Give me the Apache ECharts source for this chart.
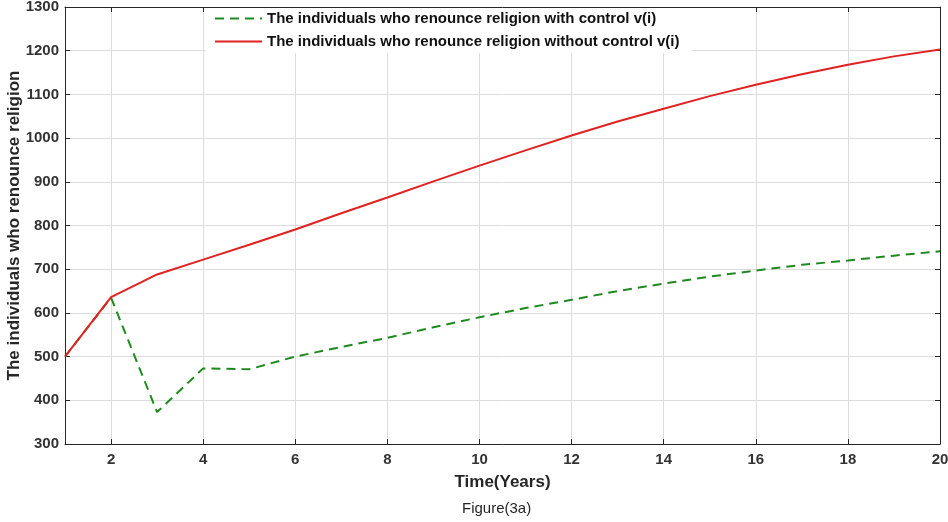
<!DOCTYPE html>
<html>
<head>
<meta charset="utf-8">
<script src="https://cdn.jsdelivr.net/npm/echarts@6/dist/echarts.min.js"></script>
<style>
  html, body { margin: 0; padding: 0; background: #fff; }
  #chart { width: 948px; height: 522px; }
</style>
</head>
<body>
<div id="chart"></div>
<script>
const years = [1, 2, 3, 4, 5, 6, 7, 8, 9, 10, 11, 12, 13, 14, 15, 16, 17, 18, 19, 20]
const withControl = [500, 635, 373, 473, 471, 500, 522, 543, 567, 590, 611, 630, 650, 667, 683, 697, 710, 720, 731, 741]
const withoutControl = [500, 636, 688, 722, 756, 791, 828, 864, 901, 937, 972, 1006, 1038, 1067, 1096, 1122, 1146, 1168, 1187, 1203]
const xTicks = [2, 4, 6, 8, 10, 12, 14, 16, 18, 20]

const FONT = "'Liberation Sans', Arial, sans-serif"
const AXIS_COLOR = '#262626'

const pairs = (vals) => years.map((y, i) => [y, vals[i]])

const chart = echarts.init(document.getElementById('chart'))

chart.setOption({
  animation: false,
  textStyle: { fontFamily: FONT },
  grid: { left: 65, right: 8, top: 7, bottom: 78, outerBoundsMode: 'none' },
  legend: {
    orient: 'vertical',
    left: 206,
    top: 8,
    padding: [3, 12, 4, 8],
    itemGap: 8,
    itemWidth: 47,
    itemHeight: 14,
    backgroundColor: '#fff',
    itemStyle: { opacity: 0 },
    textStyle: { fontFamily: FONT, fontWeight: 'bold', fontSize: 15, color: '#111' },
    data: [
      'The individuals who renounce religion with control v(i)',
      'The individuals who renounce religion without control v(i)'
    ]
  },
  xAxis: [{
    type: 'value',
    min: 1,
    max: 20,
    name: 'Time(Years)',
    nameLocation: 'middle',
    nameGap: 30,
    nameMoveOverlap: false,
    nameTextStyle: { fontFamily: FONT, fontWeight: 'bold', fontSize: 17, color: '#262626' },
    axisLine: { show: true, lineStyle: { color: AXIS_COLOR, width: 1 } },
    axisTick: { show: true, inside: true, length: 5, customValues: xTicks, lineStyle: { color: AXIS_COLOR } },
    axisLabel: { customValues: xTicks, margin: 8, fontFamily: FONT, fontWeight: 'bold', fontSize: 15, color: '#333' },
    splitLine: { show: true, lineStyle: { color: '#dcdcdc', width: 1 } }
  }, {
    type: 'value',
    position: 'top',
    min: 1,
    max: 20,
    axisLine: { show: true, onZero: false, lineStyle: { color: AXIS_COLOR, width: 1 } },
    axisTick: { show: true, inside: true, length: 5, customValues: xTicks, lineStyle: { color: AXIS_COLOR } },
    axisLabel: { show: false },
    splitLine: { show: false }
  }],
  yAxis: [{
    type: 'value',
    min: 300,
    max: 1300,
    interval: 100,
    name: 'The individuals who renounce religion',
    nameLocation: 'middle',
    nameGap: 42,
    nameMoveOverlap: false,
    nameTextStyle: { fontFamily: FONT, fontWeight: 'bold', fontSize: 17, color: '#262626' },
    axisLine: { show: true, lineStyle: { color: AXIS_COLOR, width: 1 } },
    axisTick: { show: true, inside: true, length: 5, lineStyle: { color: AXIS_COLOR } },
    axisLabel: { margin: 6, fontFamily: FONT, fontWeight: 'bold', fontSize: 15, color: '#333', formatter: (v) => String(v) },
    splitLine: { show: true, lineStyle: { color: '#dcdcdc', width: 1 } }
  }, {
    type: 'value',
    position: 'right',
    min: 300,
    max: 1300,
    interval: 100,
    axisLine: { show: true, onZero: false, lineStyle: { color: AXIS_COLOR, width: 1 } },
    axisTick: { show: true, inside: true, length: 5, lineStyle: { color: AXIS_COLOR } },
    axisLabel: { show: false },
    splitLine: { show: false }
  }],
  series: [{
    name: 'The individuals who renounce religion with control v(i)',
    type: 'line',
    data: pairs(withControl),
    symbol: 'none',
    color: '#1e8a1e',
    lineStyle: { width: 2, type: [9, 6], color: '#1e8a1e' },
    z: 2
  }, {
    name: 'The individuals who renounce religion without control v(i)',
    type: 'line',
    data: pairs(withoutControl),
    symbol: 'none',
    color: '#e02222',
    lineStyle: { width: 2, color: '#e02222' },
    z: 3
  }],
  graphic: [{
    type: 'text',
    left: 462,
    top: 501,
    style: { text: 'Figure(3a)', fontFamily: FONT, fontSize: 15, fill: '#262626' }
  }]
})
</script>
</body>
</html>
